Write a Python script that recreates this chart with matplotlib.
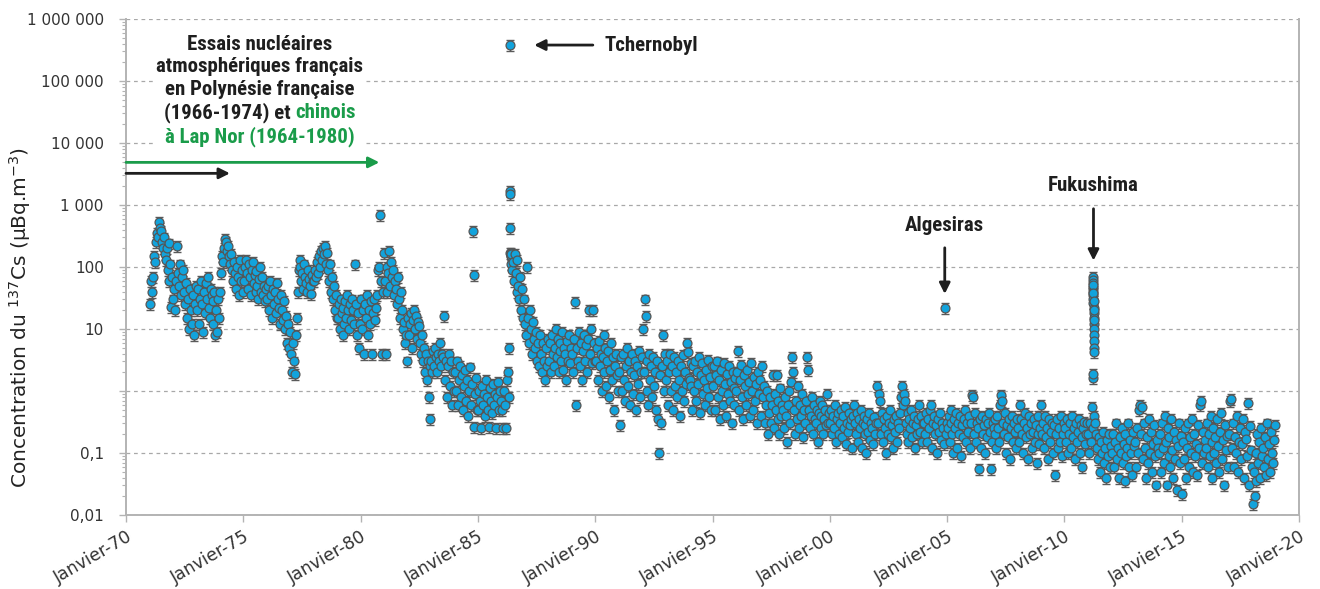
import numpy as np
import matplotlib
matplotlib.use("Agg")
import matplotlib.pyplot as plt
from matplotlib import font_manager
from matplotlib.ticker import FixedLocator, FixedFormatter, LogLocator, NullFormatter
from matplotlib.offsetbox import TextArea, HPacker, VPacker, AnnotationBbox

# ---------------------------------------------------------------------------
# 137Cs activity in air (µBq/m3), semi-monthly samples (24 per year)
# ---------------------------------------------------------------------------
first_year = 1971
samples_per_year = 24

cs_1971_1975 = [
    25, 60, 40, 70, 150, 120, 250, 350, 300, 540, 420, 380, 250, 200, 300, 160, 130, 200, 90, 240, 60, 110, 23, 70,
    30, 45, 20, 60, 220, 80, 50, 110, 35, 70, 90, 40, 25, 55, 15, 30, 10, 45, 20, 12, 35, 8, 25, 50,
    20, 45, 12, 30, 60, 25, 9, 40, 18, 55, 30, 70, 22, 15, 45, 35, 12, 28, 40, 8, 20, 9, 30, 15,
    40, 80, 150, 120, 200, 280, 250, 180, 220, 150, 110, 160, 90, 60, 120, 80, 45, 100, 70, 35, 130, 60, 90, 40,
    60, 100, 130, 80, 45, 110, 70, 35, 90, 120, 55, 75, 40, 85, 50, 30, 65, 100, 40, 70, 35, 50, 28, 45,
]
cs_1976_1980 = [
    30, 50, 20, 60, 35, 15, 45, 25, 40, 18, 55, 30, 22, 12, 35, 20, 14, 28, 10, 16, 6, 12, 5, 9,
    4, 2, 6, 3, 1.9, 8, 15, 40, 90, 130, 100, 60, 80, 45, 110, 70, 55, 40, 90, 65, 50, 37, 75, 60,
    60, 90, 70, 120, 80, 150, 100, 180, 130, 200, 160, 220, 110, 170, 90, 60, 110, 40, 70, 30, 50, 20, 35, 15,
    15, 25, 10, 30, 18, 8, 22, 12, 28, 15, 35, 20, 10, 25, 14, 30, 20, 12, 110, 25, 8, 18, 5, 12,
    30, 10, 20, 4, 25, 15, 35, 8, 20, 12, 28, 4, 18, 30, 14, 22, 35, 90, 100, 680, 60, 4, 40, 170,
]
cs_1981_1985 = [
    60, 4, 100, 40, 80, 180, 50, 120, 70, 90, 35, 60, 45, 25, 70, 30, 15, 40, 20, 10, 13, 6, 8, 3,
    15, 8, 12, 18, 5, 14, 20, 10, 16, 7, 13, 11, 6, 4, 8, 3, 5, 2, 4, 1.5, 3, 0.8, 2.5, 0.36,
    3, 2, 4.5, 2.5, 5, 3.5, 2, 4, 3, 6, 2.5, 4, 3.5, 16, 1.5, 3, 0.8, 2.5, 4, 1.2, 3, 0.6, 2, 1,
    2, 1, 3, 0.6, 1.5, 2.5, 0.8, 1.8, 0.5, 1.2, 2.2, 0.7, 1.5, 0.4, 1, 2.4, 0.6, 1.3, 380, 75, 0.26, 0.9, 1.6, 0.5,
    0.5, 1, 0.7, 0.25, 1.2, 0.6, 0.9, 0.4, 1.5, 0.8, 0.5, 0.26, 1.1, 0.7, 0.45, 1.3, 0.6, 0.9, 0.25, 0.8, 1.4, 0.5, 1, 0.7,
]
cs_1986_1990 = [
    0.5, 0.25, 1.0, 0.6, 0.25, 1.5, 2.0, 0.8, 170, 150, 90, 120, 60, 160, 80, 40, 130, 50, 30, 70, 20, 45, 15, 30,
    12, 8, 100, 15, 6, 20, 10, 4, 13, 7, 5, 9, 3, 6, 2.5, 8, 4, 2, 6, 3, 1.5, 5, 2.5, 7,
    3, 6, 2, 8, 4, 2.5, 5, 10, 3.5, 7, 2, 4.5, 6, 3, 9, 2.2, 5, 4, 1.5, 6.5, 3, 8, 2.8, 5,
    4, 2, 7, 27, 0.6, 5, 3, 9, 2.5, 6, 1.5, 4.5, 8, 3, 5.5, 2, 7, 20, 4, 10, 2.8, 20, 6, 3,
    3, 5, 1.5, 6.5, 2.5, 4, 1, 3.5, 8, 2, 5, 1.2, 3, 4.5, 0.8, 2.2, 6, 1.5, 3.5, 0.5, 2.5, 4, 1.8, 1,
]
cs_1991_1995 = [
    2, 0.28, 3.5, 1, 4, 1.5, 0.7, 2.5, 5, 1.2, 3, 0.6, 2, 4, 0.9, 1.8, 3, 0.5, 2.5, 1.3, 4.5, 0.8, 2, 3.5,
    10, 2, 30, 16, 1, 3, 0.6, 4, 1.5, 2.5, 0.8, 3.5, 1.2, 2, 0.5, 3, 0.35, 0.1, 1.8, 0.3, 2.5, 8, 1, 4,
    1.5, 3, 0.6, 2, 4, 1, 2.5, 0.5, 3.5, 1.2, 2, 0.8, 3, 1.5, 0.4, 2.5, 1, 3.8, 0.7, 2, 1.3, 6, 4.2, 1.6,
    1.5, 2.8, 1.2, 0.5, 2.5, 1, 3, 0.7, 2, 1.3, 3.5, 0.45, 1.8, 2.8, 0.9, 1.5, 0.6, 2.2, 1.1, 3.2, 0.8, 1.7, 0.5, 2.5,
    1.2, 2.5, 0.5, 1.8, 3, 0.8, 1.5, 0.35, 2.2, 1, 0.6, 2.8, 1.3, 0.4, 1.9, 0.9, 2.5, 0.7, 1.4, 0.3, 2, 1.1, 0.6, 1.6,
]
cs_1996_2000 = [
    1, 2, 4.4, 0.5, 1.5, 2.6, 0.8, 0.35, 1.8, 1.2, 0.6, 2.2, 0.9, 1.4, 0.4, 2.8, 1, 0.5, 1.7, 0.7, 1.3, 0.3, 2, 0.9,
    1.5, 0.4, 2.5, 0.8, 1.2, 0.3, 0.6, 1, 0.2, 0.45, 0.8, 0.3, 0.6, 1.8, 0.25, 0.9, 0.5, 1.8, 0.35, 0.7, 0.2, 1.1, 0.4, 0.6,
    0.5, 0.25, 0.8, 0.4, 0.15, 0.6, 1, 0.3, 1.4, 3.5, 2, 0.5, 0.2, 0.7, 0.35, 1.2, 0.25, 0.6, 0.4, 0.9, 0.18, 0.5, 0.3, 0.7,
    3.6, 2.2, 0.5, 0.25, 0.4, 0.8, 0.2, 0.6, 0.35, 0.3, 0.5, 0.15, 0.45, 0.7, 0.25, 0.4, 0.6, 0.2, 0.35, 0.5, 0.28, 0.9, 0.3, 0.45,
    0.3, 0.5, 0.2, 0.4, 0.25, 0.6, 0.15, 0.35, 0.45, 0.2, 0.3, 0.5, 0.18, 0.4, 0.25, 0.55, 0.14, 0.3, 0.22, 0.45, 0.28, 0.35, 0.12, 0.4,
]
cs_2001_2005 = [
    0.6, 0.3, 0.2, 0.45, 0.15, 0.35, 0.25, 0.5, 0.12, 0.3, 0.4, 0.2, 0.28, 0.1, 0.35, 0.22, 0.45, 0.16, 0.3, 0.25, 0.14, 0.38, 0.2, 0.3,
    1.2, 0.3, 0.9, 0.7, 0.2, 0.45, 0.15, 0.35, 0.25, 0.1, 0.4, 0.2, 0.3, 0.5, 0.18, 0.28, 0.12, 0.35, 0.22, 0.4, 0.15, 0.3, 0.25, 0.45,
    0.8, 1.2, 0.6, 0.9, 0.7, 0.3, 0.2, 0.45, 0.15, 0.35, 0.25, 0.5, 0.18, 0.3, 0.4, 0.12, 0.28, 0.2, 0.35, 0.6, 0.22, 0.4, 0.15, 0.3,
    0.3, 0.2, 0.45, 0.15, 0.35, 0.25, 0.5, 0.6, 0.12, 0.3, 0.4, 0.2, 0.28, 0.1, 0.35, 0.22, 0.45, 0.16, 0.3, 0.25, 0.14, 21.5, 0.2, 0.3,
    0.25, 0.4, 0.15, 0.3, 0.5, 0.2, 0.1, 0.35, 0.25, 0.45, 0.12, 0.3, 0.2, 0.4, 0.09, 0.28, 0.18, 0.35, 0.5, 0.15, 0.3, 0.22, 0.4, 0.12,
]
cs_2006_2010 = [
    0.3, 0.85, 0.8, 0.2, 0.45, 0.15, 0.3, 0.25, 0.056, 0.35, 0.12, 0.4, 0.2, 0.28, 0.1, 0.35, 0.18, 0.3, 0.45, 0.22, 0.056, 0.15, 0.3, 0.25,
    0.2, 0.35, 0.12, 0.4, 0.25, 0.15, 0.6, 0.85, 0.7, 0.3, 0.2, 0.45, 0.1, 0.28, 0.18, 0.35, 0.08, 0.25, 0.4, 0.15, 0.3, 0.22, 0.12, 0.35,
    0.25, 0.15, 0.6, 0.35, 0.2, 0.1, 0.3, 0.45, 0.18, 0.25, 0.08, 0.4, 0.2, 0.3, 0.12, 0.22, 0.35, 0.15, 0.28, 0.07, 0.2, 0.4, 0.14, 0.25,
    0.6, 0.2, 0.3, 0.12, 0.4, 0.18, 0.25, 0.08, 0.35, 0.15, 0.22, 0.3, 0.1, 0.28, 0.045, 0.2, 0.35, 0.12, 0.25, 0.15, 0.4, 0.09, 0.2, 0.3,
    0.25, 0.15, 0.35, 0.1, 0.2, 0.3, 0.12, 0.4, 0.18, 0.25, 0.08, 0.3, 0.15, 0.22, 0.35, 0.1, 0.28, 0.18, 0.06, 0.25, 0.32, 0.14, 0.2, 0.3,
]
cs_2011_2015 = [
    0.2, 0.1, 0.3, 0.15, 0.55, 0.25, 0.4, 0.3, 0.2, 0.12, 0.08, 0.18, 0.05, 0.15, 0.1, 0.22, 0.07, 0.12, 0.04, 0.16, 0.09, 0.2, 0.06, 0.13,
    0.1, 0.2, 0.06, 0.15, 0.3, 0.08, 0.12, 0.04, 0.18, 0.1, 0.25, 0.07, 0.14, 0.035, 0.2, 0.09, 0.12, 0.3, 0.06, 0.16, 0.1, 0.045, 0.22, 0.13,
    0.15, 0.06, 0.25, 0.1, 0.5, 0.6, 0.2, 0.55, 0.08, 0.3, 0.12, 0.04, 0.18, 0.07, 0.35, 0.1, 0.22, 0.05, 0.14, 0.28, 0.09, 0.03, 0.16, 0.12,
    0.1, 0.2, 0.05, 0.3, 0.12, 0.07, 0.4, 0.15, 0.03, 0.25, 0.09, 0.18, 0.06, 0.35, 0.11, 0.04, 0.22, 0.08, 0.16, 0.025, 0.13, 0.3, 0.07, 0.19,
    0.022, 0.15, 0.08, 0.25, 0.04, 0.12, 0.3, 0.06, 0.18, 0.1, 0.35, 0.05, 0.2, 0.09, 0.14, 0.045, 0.28, 0.12, 0.6, 0.7, 0.07, 0.22, 0.1, 0.16,
]
cs_2016_2018 = [
    0.12, 0.3, 0.06, 0.2, 0.09, 0.4, 0.15, 0.04, 0.25, 0.1, 0.18, 0.07, 0.35, 0.13, 0.05, 0.22, 0.45, 0.08, 0.16, 0.03, 0.28, 0.11, 0.19, 0.06,
    0.2, 0.7, 0.75, 0.12, 0.3, 0.06, 0.18, 0.1, 0.4, 0.05, 0.15, 0.25, 0.08, 0.14, 0.35, 0.04, 0.22, 0.17, 0.09, 0.65, 0.03, 0.27, 0.11, 0.06,
    0.015, 0.05, 0.02, 0.1, 0.035, 0.2, 0.07, 0.15, 0.04, 0.25, 0.09, 0.12, 0.06, 0.18, 0.045, 0.3, 0.08, 0.14, 0.05, 0.22, 0.1, 0.07, 0.16, 0.28,
]

# Daily samples during the two accident plumes
chernobyl_dates = [1986.33, 1986.36, 1986.365, 1986.37, 1986.38, 1986.39, 1986.40, 1986.41, 1986.43]
chernobyl_vals = [5, 380000, 1700, 1500, 430, 170, 150, 110, 160]

fukushima_dates = [2011.205, 2011.208, 2011.211, 2011.214, 2011.216, 2011.219, 2011.222, 2011.225,
                   2011.227, 2011.230, 2011.233, 2011.236, 2011.238, 2011.241, 2011.244, 2011.247,
                   2011.249, 2011.252, 2011.255, 2011.258, 2011.260, 2011.263, 2011.266, 2011.270,
                   2011.275]
fukushima_vals = [1.6, 1.9, 45, 70, 62, 55, 48, 40, 52, 35, 30, 38, 26, 22, 28, 18,
                  15, 20, 12, 10, 14, 8, 6.5, 5, 4.3]

rel_uncertainty = 0.2

# Axis ticks and labels
ytick_values = [1e-2, 1e-1, 1, 10, 100, 1e3, 1e4, 1e5, 1e6]
ytick_labels = ["0,01", "0,1", "", "10", "100", "1 000", "10 000", "100 000", "1 000 000"]
xtick_years = [1970, 1975, 1980, 1985, 1990, 1995, 2000, 2005, 2010, 2015, 2020]
xtick_labels = ["Janvier-70", "Janvier-75", "Janvier-80", "Janvier-85", "Janvier-90", "Janvier-95",
                "Janvier-00", "Janvier-05", "Janvier-10", "Janvier-15", "Janvier-20"]

# ---------------------------------------------------------------------------
regular_vals = np.array(cs_1971_1975 + cs_1976_1980 + cs_1981_1985 + cs_1986_1990 + cs_1991_1995
                        + cs_1996_2000 + cs_2001_2005 + cs_2006_2010 + cs_2011_2015 + cs_2016_2018,
                        dtype=float)
regular_dates = first_year + (np.arange(regular_vals.size) + 0.5) / samples_per_year

dates = np.concatenate([regular_dates, chernobyl_dates, fukushima_dates])
vals = np.concatenate([regular_vals, chernobyl_vals, fukushima_vals])
order = np.argsort(dates, kind="stable")
dates, vals = dates[order], vals[order]

installed = {f.name for f in font_manager.fontManager.ttflist}
bold_family = next((n for n in ["Roboto Condensed", "DejaVu Sans Condensed", "Liberation Sans Narrow"]
                    if n in installed), "DejaVu Sans")

plt.rcParams["font.family"] = ["DejaVu Sans"]

fig = plt.figure(figsize=(13.2, 5.89), dpi=100)
ax = fig.add_axes([126 / 1320, 1 - 515 / 589, (1299 - 126) / 1320, (515 - 19) / 589])

ax.set_yscale("log")
ax.set_xlim(1970, 2020)
ax.set_ylim(0.01, 1e6)

ax.errorbar(dates, vals, yerr=vals * rel_uncertainty, fmt="none", ecolor="#5a5a5a",
            elinewidth=1.0, capsize=3, capthick=1.0, zorder=2)
ax.plot(dates, vals, "o", ms=6.4, mfc="#12a3dc", mec="#555555", mew=0.9, zorder=3)

# Grid, spines, ticks
ax.yaxis.set_major_locator(FixedLocator(ytick_values))
ax.yaxis.set_major_formatter(FixedFormatter(ytick_labels))
ax.yaxis.set_minor_locator(LogLocator(base=10, subs=np.arange(2, 10), numticks=30))
ax.yaxis.set_minor_formatter(NullFormatter())
ax.grid(True, axis="y", which="major", ls=(0, (3, 3)), color="#a8a8a8", lw=0.9, zorder=0)
ax.set_axisbelow(True)

for side in ["left", "bottom", "right"]:
    ax.spines[side].set_color("#b3b3b3")
    ax.spines[side].set_linewidth(1.4)
ax.spines["top"].set_visible(False)

ax.tick_params(axis="y", which="major", length=5, width=1, color="#b3b3b3",
               labelsize=11, labelcolor="#333333", pad=11)
ax.tick_params(axis="y", which="minor", length=3, width=0.8, color="#b3b3b3")
ax.set_xticks(xtick_years)
ax.set_xticklabels(xtick_labels, rotation=30, ha="right", va="top", rotation_mode="anchor")
ax.tick_params(axis="x", which="major", length=5, width=1, color="#b3b3b3",
               labelsize=12.5, labelcolor="#333333", pad=4)
ax.xaxis.set_minor_locator(FixedLocator([]))

ax.set_ylabel(r"Concentration du $^{137}$Cs (µBq.m$^{-3}$)", fontsize=14.5, color="#222222")
ax.yaxis.set_label_coords(-0.079, 0.398)

# Annotations
ink = "#1e1e1e"
green = "#1a9c4a"
bold = dict(family=[bold_family, "DejaVu Sans"], weight="bold", size=15)

lines = [
    TextArea("Essais nucléaires", textprops=dict(color=ink, **bold)),
    TextArea("atmosphériques français", textprops=dict(color=ink, **bold)),
    TextArea("en Polynésie française", textprops=dict(color=ink, **bold)),
    HPacker(children=[TextArea("(1966-1974) et ", textprops=dict(color=ink, **bold)),
                      TextArea("chinois", textprops=dict(color=green, **bold))],
            align="baseline", pad=0, sep=0),
    TextArea("à Lap Nor (1964-1980)", textprops=dict(color=green, **bold)),
]
block = VPacker(children=lines, align="center", pad=0, sep=2.5)
ab = AnnotationBbox(block, (1975.71, 10 ** 4.84), xycoords="data", box_alignment=(0.5, 0.5),
                    frameon=True, pad=0.1, bboxprops=dict(fc="white", ec="none"), zorder=4)
ax.add_artist(ab)

arrow = dict(arrowstyle="-|>", lw=2, color=ink, mutation_scale=16, shrinkA=0, shrinkB=0)
green_arrow = dict(arrow, color=green)

ax.annotate("", xy=(1980.8, 4870), xytext=(1970.0, 4870), arrowprops=green_arrow, zorder=4)
ax.annotate("", xy=(1974.43, 3240), xytext=(1970.0, 3240), arrowprops=arrow, zorder=4)

ax.annotate("", xy=(1987.4, 3.8e5), xytext=(1989.9, 3.8e5), arrowprops=arrow, zorder=4)
ax.text(1990.4, 3.8e5, "Tchernobyl", color=ink, ha="left", va="center", **bold)

ax.text(2004.88, 464, "Algesiras", color=ink, ha="center", va="center", **bold)
ax.annotate("", xy=(2004.9, 36.8), xytext=(2004.9, 204), arrowprops=arrow, zorder=4)

ax.text(2011.24, 2040, "Fukushima", color=ink, ha="center", va="center", **bold)
ax.annotate("", xy=(2011.24, 127), xytext=(2011.24, 870), arrowprops=arrow, zorder=4)

fig.savefig("out.png", dpi=100)
